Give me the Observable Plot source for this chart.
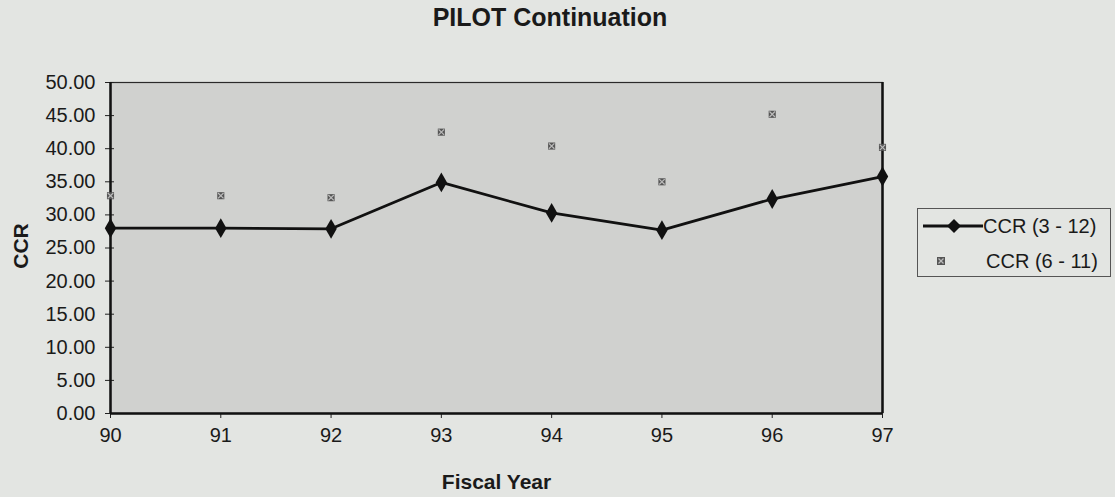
<!DOCTYPE html>
<html>
<head>
<meta charset="utf-8">
<script src="https://cdn.jsdelivr.net/npm/d3@7"></script>
<script src="https://cdn.jsdelivr.net/npm/@observablehq/plot@0.6"></script>
<style>
  html, body { margin: 0; padding: 0; background: #e3e5e2; }
  #wrap { position: relative; width: 1115px; height: 497px; font-family: "Liberation Sans", Arial, sans-serif; }
  #title { position: absolute; left: 0; width: 1100px; top: 3px; text-align: center; font-weight: bold; font-size: 25px; color: #1a1a1a; white-space: nowrap; }
  #legend { position: absolute; left: 917px; top: 208px; width: 192px; height: 67px; border: 1px solid #555; background: #e3e5e2; font-size: 20px; color: #1a1a1a; }
  .row { position: absolute; left: 0; height: 28px; display: flex; align-items: center; }
  .row svg { display: block; }
</style>
</head>
<body>
<div id="wrap">
  <div id="title">PILOT Continuation</div>
  <div id="legend">
    <div class="row" style="top:3px"><svg width="65" height="28"><line x1="5" x2="65" y1="14" y2="14" stroke="#111" stroke-width="2.8"/><path d="M36,7 L43,14 L36,21 L29,14 Z" fill="#111"/></svg><span>CCR (3 - 12)</span></div>
    <div class="row" style="top:38px"><svg width="68" height="28"><rect x="19" y="10" width="8" height="8" fill="#555"/><g stroke="#bbb" stroke-width="1.2"><line x1="20.5" x2="25.5" y1="11.5" y2="16.5"/><line x1="25.5" x2="20.5" y1="11.5" y2="16.5"/></g></svg><span>CCR (6 - 11)</span></div>
  </div>
  <div id="chart"></div>
</div>
<script>
const years = [90, 91, 92, 93, 94, 95, 96, 97];
const ccr3to12 = [28.0, 28.0, 27.9, 34.9, 30.3, 27.7, 32.4, 35.8];
const ccr6to11 = [32.9, 32.9, 32.6, 42.5, 40.4, 35.0, 45.2, 40.2];
const yTicks = [0, 5, 10, 15, 20, 25, 30, 35, 40, 45, 50];

const s1 = years.map((x, i) => ({x, y: ccr3to12[i]}));
const s2 = years.map((x, i) => ({x, y: ccr6to11[i]}));

const chart = Plot.plot({
  width: 1115,
  height: 497,
  marginTop: 82,
  marginBottom: 84,
  marginLeft: 110,
  marginRight: 233,
  style: {background: "transparent", fontFamily: "Liberation Sans, Arial, sans-serif", fontSize: "20px", color: "#1a1a1a"},
  x: {domain: [90, 97], ticks: years, tickFormat: d => String(d), label: null},
  y: {domain: [0, 50], ticks: yTicks, tickFormat: d => d.toFixed(2), label: null},
  marks: [
    Plot.frame({fill: "#d0d1cf", stroke: "#2a2a2a", strokeWidth: 1.2}),
    Plot.axisY({ticks: yTicks, tickFormat: d => d.toFixed(2), tickSize: 5, tickPadding: 10, stroke: "#222", fontSize: 20}),
    Plot.axisY({ticks: yTicks, tickFormat: null, tickSize: -4, stroke: "#222", text: null}),
    Plot.axisX({ticks: years, tickFormat: d => String(d), tickSize: 5, tickPadding: 9, stroke: "#222", fontSize: 20}),
    Plot.ruleX([90, 97], {stroke: "#111", strokeWidth: 2.5}),
    Plot.ruleY([0], {stroke: "#111", strokeWidth: 2.5}),
    Plot.text(["Fiscal Year"], {frameAnchor: "bottom", dy: 75, fontWeight: "bold", fontSize: 21}),
    Plot.text(["CCR"], {frameAnchor: "left", textAnchor: "middle", dx: -89, dy: -2, rotate: -90, fontWeight: "bold", fontSize: 21}),
    Plot.line(s1, {x: "x", y: "y", stroke: "#111", strokeWidth: 2.8}),
    Plot.dot(s1, {x: "x", y: "y", symbol: "diamond", r: 6, fill: "#111", stroke: "none"}),
    Plot.dot(s2, {x: "x", y: "y", symbol: "square", r: 4, fill: "#555", stroke: "none"}),
    Plot.dot(s2, {x: "x", y: "y", symbol: "times", r: 2.6, stroke: "#bbb", strokeWidth: 1.2})
  ]
});
document.getElementById("chart").appendChild(chart);
</script>
</body>
</html>
